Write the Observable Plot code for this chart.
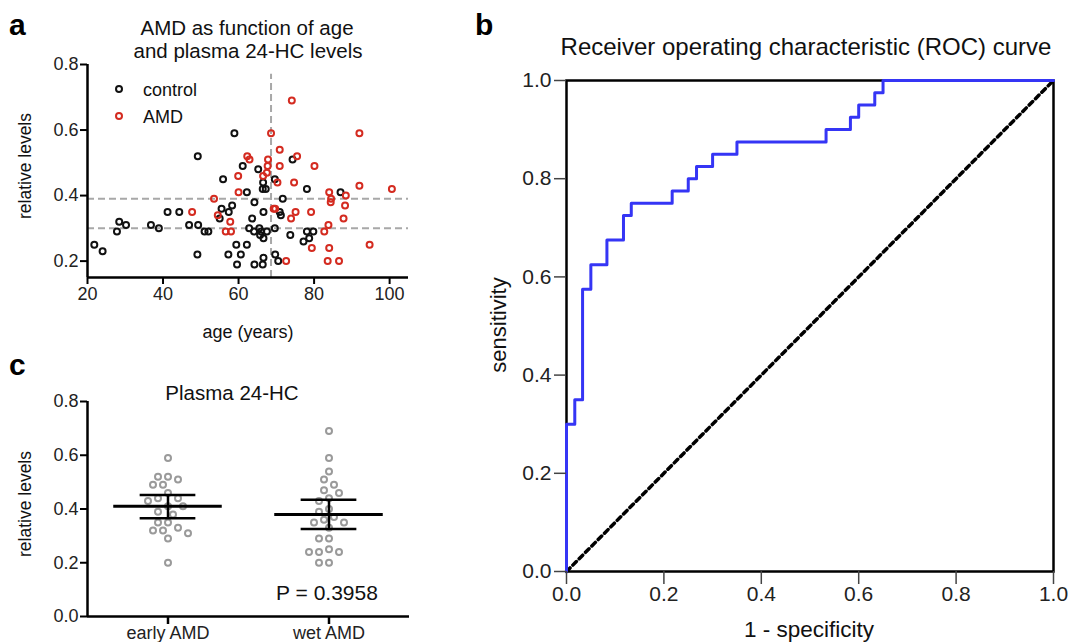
<!DOCTYPE html>
<html><head><meta charset="utf-8">
<script src="https://cdn.jsdelivr.net/npm/d3@7"></script>
<script src="https://cdn.jsdelivr.net/npm/@observablehq/plot@0.6"></script>
<style>
body{margin:0;background:#fff;}
#wrap{position:relative;width:1070px;height:642px;overflow:hidden;background:#fff;font-family:"Liberation Sans",Arial,Helvetica,sans-serif;}
#wrap > svg{position:absolute;}
</style></head><body><div id="wrap"></div>
<script>
// ---------- data ----------
const controlAge = [21.8,24,27.8,28.4,30.2,36.8,38.9,41.2,44.3,46.9,49.3,49.2,49.1,51,52,55,55.5,55.9,57.4,58.3,57.3,58.9,59.4,59.6,60.6,61.1,62.2,62.2,62.8,63.6,64.2,64.1,64.2,65.2,65.5,65.7,66,66.4,66.6,66.6,66.6,66.5,66.4,67.2,67.5,69.6,69.6,69.7,70.5,70.9,71.2,71.7,73.7,74.3,77.2,78.1,78.1,78.7,79.8,87];
const controlLevel = [0.25,0.23,0.29,0.32,0.31,0.31,0.30,0.35,0.35,0.31,0.31,0.52,0.22,0.29,0.29,0.33,0.36,0.45,0.35,0.37,0.22,0.59,0.25,0.19,0.22,0.49,0.41,0.25,0.30,0.33,0.38,0.29,0.19,0.48,0.30,0.28,0.29,0.19,0.21,0.35,0.27,0.44,0.42,0.42,0.29,0.45,0.30,0.22,0.20,0.35,0.34,0.39,0.28,0.51,0.26,0.42,0.29,0.27,0.29,0.41];
const amdAge = [47.7,53.5,54.5,57.8,56.6,58,59.9,60,62.3,62.9,66.5,67.5,67.7,67.8,68.6,69.3,69.7,70.3,70.9,70.9,72.6,73.9,74.1,74.7,75.1,75.5,80.1,79.2,79.4,82.7,83.8,83.6,84,84.5,84.4,84,86.6,87.8,88.2,88.4,92,92,94.7,100.6];
const amdLevel = [0.35,0.39,0.34,0.32,0.29,0.29,0.46,0.41,0.52,0.51,0.46,0.47,0.49,0.51,0.59,0.36,0.36,0.44,0.54,0.49,0.20,0.33,0.69,0.44,0.35,0.52,0.49,0.35,0.24,0.29,0.31,0.20,0.41,0.39,0.38,0.24,0.20,0.33,0.37,0.40,0.43,0.59,0.25,0.42];
const cutoffAge = [68.6];
const cutoffLevels = [0.39, 0.30];
const ageTicks = [20, 40, 60, 80, 100];
const levelTicksA = [0.2, 0.4, 0.6, 0.8];

const rocFPR = [0, 0, 0.017, 0.033, 0.05, 0.083, 0.117, 0.133, 0.217, 0.25, 0.267, 0.3, 0.35, 0.533, 0.583, 0.6, 0.633, 0.65, 1];
const rocTPR = [0, 0.30, 0.35, 0.575, 0.625, 0.675, 0.725, 0.75, 0.775, 0.80, 0.825, 0.85, 0.875, 0.90, 0.925, 0.95, 0.975, 1.0, 1.0];
const chance = [0, 1];
const rocTicks = [0, 0.2, 0.4, 0.6, 0.8, 1.0];

const groups = ["early AMD", "wet AMD"];
const earlyAMD = [0.59,0.52,0.51,0.52,0.49,0.49,0.46,0.44,0.44,0.43,0.41,0.41,0.39,0.38,0.35,0.35,0.33,0.32,0.32,0.31,0.29,0.20];
const wetAMD = [0.69,0.59,0.54,0.51,0.49,0.47,0.46,0.44,0.43,0.40,0.39,0.37,0.36,0.35,0.35,0.33,0.29,0.29,0.25,0.24,0.24,0.24,0.20,0.20];
const groupMean = [0.41, 0.38];
const groupLow = [0.366, 0.326];
const groupHigh = [0.452, 0.434];
const levelTicksC = [0, 0.2, 0.4, 0.6, 0.8];

// ---------- styles ----------
const FONT = '"Liberation Sans", Arial, Helvetica, sans-serif';
const RED = "#d42b20";
const wrap = document.getElementById("wrap");
function place(el, left, top){ el.style.left = left + "px"; el.style.top = top + "px"; wrap.appendChild(el); }

// ---------- panel a ----------
const controlData = controlAge.map((a, i) => ({age: a, level: controlLevel[i]}));
const amdData = amdAge.map((a, i) => ({age: a, level: amdLevel[i]}));
const pa = Plot.plot({
  width: 420, height: 345, marginTop: 64, marginLeft: 87, marginRight: 12, marginBottom: 68,
  style: {fontFamily: FONT, fontSize: "18px", color: "#222", background: "transparent"},
  x: {domain: [20, 105]},
  y: {domain: [0.15, 0.8]},
  marks: [
    Plot.ruleY(cutoffLevels, {stroke: "#a8a8a8", strokeWidth: 2, strokeDasharray: "7,4"}),
    Plot.ruleX(cutoffAge, {y1: 0.15, y2: 0.77, stroke: "#a8a8a8", strokeWidth: 2, strokeDasharray: "7,4"}),
    Plot.dot(controlData, {x: "age", y: "level", r: 3, stroke: "#111", strokeWidth: 2}),
    Plot.dot(amdData, {x: "age", y: "level", r: 3, stroke: RED, strokeWidth: 2}),
    Plot.ruleX([20], {stroke: "#000", strokeWidth: 2.5}),
    Plot.ruleY([0.15], {stroke: "#000", strokeWidth: 2.5}),
    Plot.axisY({ticks: levelTicksA, tickFormat: ".1f", tickSize: 7, tickPadding: 2, strokeWidth: 2, stroke: "#000", fontSize: 18, label: null}),
    Plot.axisX({ticks: ageTicks, tickSize: 7, tickPadding: 3, strokeWidth: 2, stroke: "#000", fontSize: 18, label: null})
  ]
});
place(pa, 0, 0);

// ---------- panel c ----------
const PX_PER_LEVEL = 215 / 0.8;
const PX_PER_GROUP = (420 - 87 - 11) / 2;
function swarm(values, d, step){
  const order = values.map((v, i) => i).sort((a, b) => values[b] - values[a]);
  const placed = [], off = new Array(values.length);
  for (const i of order){
    const y = values[i] * PX_PER_LEVEL;
    for (let k = 0; k < 60; k++){
      const c = k === 0 ? 0 : (k % 2 ? -1 : 1) * Math.ceil(k / 2) * step;
      if (placed.every(p => Math.hypot(p.x - c, p.y - y) >= d)){ off[i] = c; placed.push({x: c, y}); break; }
    }
  }
  return off;
}
const cData = [];
[earlyAMD, wetAMD].forEach((vals, gi) => {
  const off = swarm(vals, 9.2, 5);
  vals.forEach((v, i) => cData.push({x: gi + 1 + off[i] / PX_PER_GROUP, level: v}));
});
const stats = groups.map((g, i) => ({pos: i + 1, mean: groupMean[i], low: groupLow[i], high: groupHigh[i]}));
const pc = Plot.plot({
  width: 420, height: 297, marginTop: 56, marginLeft: 87, marginRight: 11, marginBottom: 26,
  style: {fontFamily: FONT, fontSize: "18px", color: "#222", background: "transparent"},
  x: {domain: [0.5, 2.5]},
  y: {domain: [0, 0.8]},
  marks: [
    Plot.dot(cData, {x: "x", y: "level", r: 3, stroke: "#9a9a9a", strokeWidth: 2}),
    Plot.ruleY(stats, {y: "mean", x1: d => d.pos - 0.337, x2: d => d.pos + 0.337, stroke: "#000", strokeWidth: 3}),
    Plot.ruleY(stats, {y: "low", x1: d => d.pos - 0.173, x2: d => d.pos + 0.173, stroke: "#000", strokeWidth: 2.5}),
    Plot.ruleY(stats, {y: "high", x1: d => d.pos - 0.173, x2: d => d.pos + 0.173, stroke: "#000", strokeWidth: 2.5}),
    Plot.ruleX(stats, {x: "pos", y1: "low", y2: "high", stroke: "#000", strokeWidth: 2.5}),
    Plot.ruleX([0.5], {stroke: "#000", strokeWidth: 2.5}),
    Plot.ruleY([0], {stroke: "#000", strokeWidth: 2.5}),
    Plot.axisY({ticks: levelTicksC, tickFormat: ".1f", tickSize: 7, tickPadding: 2, strokeWidth: 2, stroke: "#000", fontSize: 18, label: null}),
    Plot.axisX({ticks: [1, 2], tickFormat: d => groups[d - 1], tickSize: 8, tickPadding: 2, strokeWidth: 2.5, stroke: "#000", fontSize: 18, label: null})
  ]
});
place(pc, 0, 345);

// ---------- panel b ----------
const roc = rocFPR.map((x, i) => ({fpr: x, tpr: rocTPR[i]}));
const pb = Plot.plot({
  width: 590, height: 642, marginTop: 80, marginLeft: 86, marginRight: 17, marginBottom: 71,
  style: {fontFamily: FONT, fontSize: "21px", color: "#222", background: "transparent"},
  x: {domain: [0, 1]},
  y: {domain: [0, 1]},
  marks: [
    Plot.frame({stroke: "#000", strokeWidth: 2.5}),
    Plot.line(chance, {x: d => d, y: d => d, stroke: "#000", strokeWidth: 3.5, strokeDasharray: "5,4"}),
    Plot.line(roc, {x: "fpr", y: "tpr", curve: "step-after", stroke: "#3535f5", strokeWidth: 3}),
    Plot.axisY({ticks: rocTicks, tickFormat: ".1f", tickSize: 12, tickPadding: 3, strokeWidth: 1.5, stroke: "#444", fontSize: 21, label: null}),
    Plot.axisX({ticks: rocTicks, tickFormat: ".1f", tickSize: 13, tickPadding: 2, strokeWidth: 1.5, stroke: "#444", fontSize: 21, label: null})
  ]
});
place(pb, 480, 0);

// ---------- text overlay ----------
const ov = d3.select(wrap).append("svg")
  .attr("width", 1070).attr("height", 642)
  .style("position", "absolute").style("left", "0px").style("top", "0px")
  .style("font-family", FONT).style("pointer-events", "none");
function txt(s, x, y, size, opts = {}){
  const t = ov.append("text").text(s).attr("font-size", size).attr("fill", opts.fill || "#111")
    .attr("text-anchor", opts.anchor || "middle");
  if (opts.bold) t.attr("font-weight", "bold");
  if (opts.rotate) t.attr("transform", `translate(${x},${y}) rotate(-90)`);
  else t.attr("x", x).attr("y", y);
  return t;
}
// panel letters
txt("a", 9, 35, 30, {bold: true, anchor: "start", fill: "#000"});
txt("b", 475, 35, 30, {bold: true, anchor: "start", fill: "#000"});
txt("c", 9, 375, 30, {bold: true, anchor: "start", fill: "#000"});
// panel a
txt("AMD as function of age", 247, 35, 20.5);
txt("and plasma 24-HC levels", 248, 58, 20.5);
txt("relative levels", 31, 166, 17.5, {rotate: true});
txt("age (years)", 248, 338, 18);
ov.append("circle").attr("cx", 119).attr("cy", 89).attr("r", 3).attr("fill", "none").attr("stroke", "#111").attr("stroke-width", 2);
ov.append("circle").attr("cx", 119).attr("cy", 116).attr("r", 3).attr("fill", "none").attr("stroke", RED).attr("stroke-width", 2);
txt("control", 143, 95.5, 18, {anchor: "start"});
txt("AMD", 143, 122.5, 18, {anchor: "start"});
// panel c
txt("Plasma 24-HC", 232, 400, 20.5);
txt("relative levels", 31, 504, 17.5, {rotate: true});
txt("P = 0.3958", 327, 600, 21);
// panel b
txt("Receiver operating characteristic (ROC) curve", 806, 55, 24);
txt("sensitivity", 506, 325, 22, {rotate: true});
txt("1 - specificity", 809, 637, 22.5);
</script></body></html>
